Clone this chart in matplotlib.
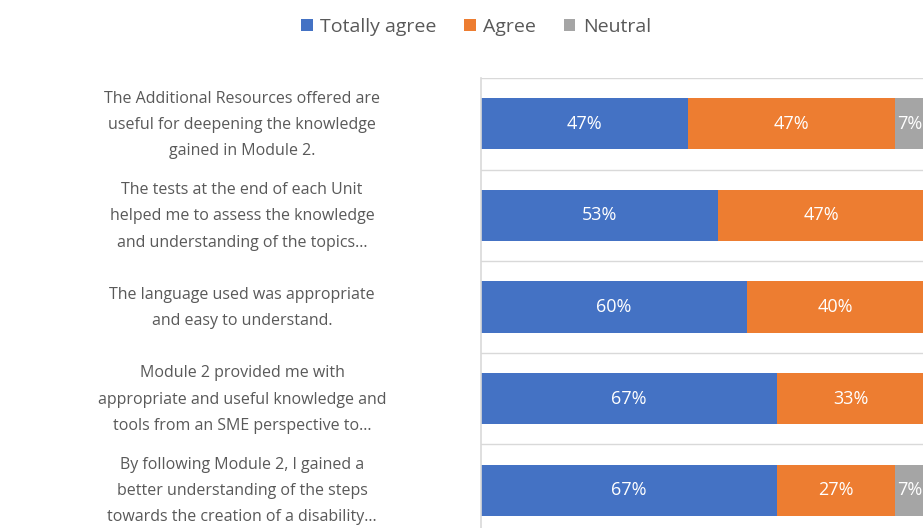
import numpy as np
import matplotlib.pyplot as plt
from matplotlib import transforms

plt.rcParams['font.family'] = ['Open Sans', 'DejaVu Sans']

questions = [
    "The Additional Resources offered are\nuseful for deepening the knowledge\ngained in Module 2.",
    "The tests at the end of each Unit\nhelped me to assess the knowledge\nand understanding of the topics\u2026",
    "The language used was appropriate\nand easy to understand.",
    "Module 2 provided me with\nappropriate and useful knowledge and\ntools from an SME perspective to\u2026",
    "By following Module 2, I gained a\nbetter understanding of the steps\ntowards the creation of a disability\u2026",
]
totally_agree = [46.67, 53.33, 60.0, 66.67, 66.67]
agree = [46.67, 46.67, 40.0, 33.33, 26.67]
neutral = [6.67, 0.0, 0.0, 0.0, 6.67]

series = [("Totally agree", totally_agree, "#4472C4"),
          ("Agree", agree, "#ED7D31"),
          ("Neutral", neutral, "#A5A5A5")]

W, H = 923, 528
fig = plt.figure(figsize=(W / 100, H / 100), dpi=100)
ax = fig.add_axes([481 / W, 1 - 536 / H, 443.5 / W, 458 / H])

y = np.arange(len(questions))
left = np.zeros(len(questions))
for name, vals, col in series:
    vals = np.array(vals)
    bars = ax.barh(y, vals, left=left, height=0.56, color=col, label=name)
    for b, v in zip(bars, vals):
        if v > 0:
            ax.text(b.get_x() + b.get_width() / 2, b.get_y() + b.get_height() / 2,
                    f"{v:.0f}%", ha='center', va='center', color='white', fontsize=13)
    left += vals

ax.set_xlim(0, 100)
ax.set_ylim(len(questions) - 0.5, -0.5)
for b in np.arange(-0.5, len(questions), 1.0):
    ax.axhline(b, color='#D9D9D9', lw=1.0, zorder=0)

for s in ['top', 'right', 'bottom']:
    ax.spines[s].set_visible(False)
ax.spines['left'].set_color('#D9D9D9')
ax.spines['left'].set_linewidth(1.2)
ax.set_xticks([])
ax.set_yticks([])

# question labels, centred in the space left of the bars
trans = transforms.blended_transform_factory(fig.transFigure, ax.transData)
for i, q in enumerate(questions):
    ax.text(242 / W, i + 0.01, q, transform=trans, ha='center', va='center',
            multialignment='center', color='#595959', fontsize=11.5,
            linespacing=1.85, clip_on=False)

handles, labels = ax.get_legend_handles_labels()
fig.legend(handles, labels, loc='center', bbox_to_anchor=(476 / W, 1 - 27 / H),
           ncol=3, frameon=False, fontsize=14, handlelength=0.6, handleheight=0.6,
           handletextpad=0.4, columnspacing=1.4, labelcolor='#595959')

fig.savefig('out.png', dpi=100)
